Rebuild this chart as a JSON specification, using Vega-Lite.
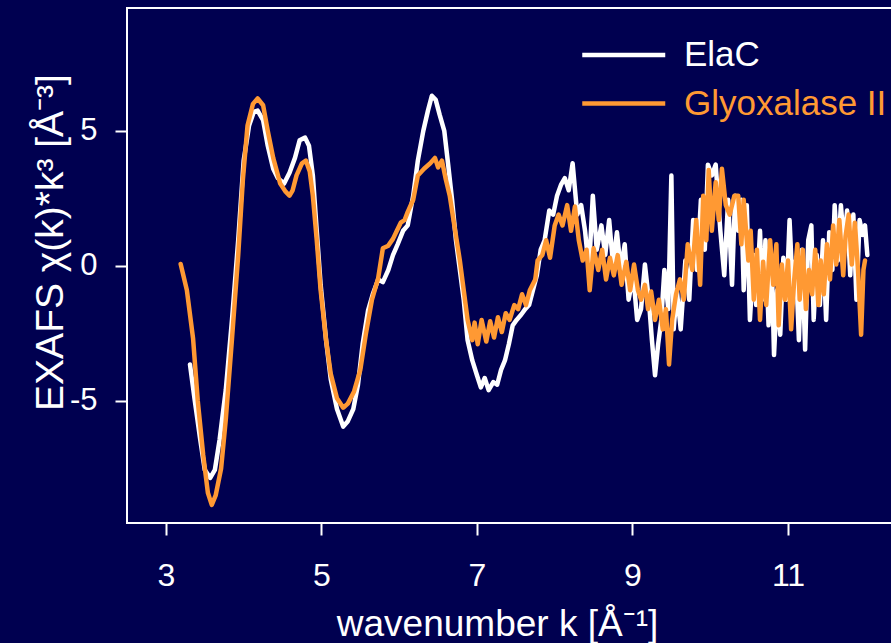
{
  "$schema": "https://vega.github.io/schema/vega-lite/v6.json",
  "autosize": {"type": "none"},
  "padding": {"left": 127, "top": 8, "right": -2, "bottom": 120},
  "width": 766,
  "height": 515,
  "background": "#000050",
  "config": {
    "view": {"stroke": "#ffffff", "strokeWidth": 2},
    "font": "Liberation Sans",
    "axis": {"domain": false, "grid": false, "tickColor": "#ffffff", "tickWidth": 2, "tickSize": 12,
      "labelColor": "#ffffff", "titleColor": "#ffffff", "labelFont": "Liberation Sans", "titleFont": "Liberation Sans",
      "labelFontSize": 31, "titleFontSize": 37, "titleFontWeight": "normal"}
  },
  "data": {"values": [
    {"s":"ElaC","k":3.31,"v":-3.65},{"s":"ElaC","k":3.37,"v":-4.95},{"s":"ElaC","k":3.44,"v":-6.4},{"s":"ElaC","k":3.5,"v":-7.55},{"s":"ElaC","k":3.57,"v":-7.85},{"s":"ElaC","k":3.63,"v":-7.55},{"s":"ElaC","k":3.69,"v":-6.45},{"s":"ElaC","k":3.77,"v":-4.6},{"s":"ElaC","k":3.85,"v":-2.0},{"s":"ElaC","k":3.93,"v":0.95},{"s":"ElaC","k":4.0,"v":3.9},{"s":"ElaC","k":4.07,"v":5.2},{"s":"ElaC","k":4.13,"v":5.7},{"s":"ElaC","k":4.18,"v":5.75},{"s":"ElaC","k":4.25,"v":5.4},{"s":"ElaC","k":4.31,"v":4.45},{"s":"ElaC","k":4.38,"v":3.6},{"s":"ElaC","k":4.44,"v":3.25},{"s":"ElaC","k":4.52,"v":3.05},{"s":"ElaC","k":4.59,"v":3.45},{"s":"ElaC","k":4.66,"v":4.0},{"s":"ElaC","k":4.72,"v":4.65},{"s":"ElaC","k":4.79,"v":4.75},{"s":"ElaC","k":4.84,"v":4.45},{"s":"ElaC","k":4.89,"v":3.35},{"s":"ElaC","k":4.94,"v":1.3},{"s":"ElaC","k":4.99,"v":-0.7},{"s":"ElaC","k":5.06,"v":-2.75},{"s":"ElaC","k":5.12,"v":-4.2},{"s":"ElaC","k":5.2,"v":-5.3},{"s":"ElaC","k":5.28,"v":-5.95},{"s":"ElaC","k":5.34,"v":-5.75},{"s":"ElaC","k":5.41,"v":-5.3},{"s":"ElaC","k":5.47,"v":-4.4},{"s":"ElaC","k":5.53,"v":-2.9},{"s":"ElaC","k":5.6,"v":-1.65},{"s":"ElaC","k":5.66,"v":-1.05},{"s":"ElaC","k":5.73,"v":-0.5},{"s":"ElaC","k":5.79,"v":-0.6},{"s":"ElaC","k":5.86,"v":-0.15},{"s":"ElaC","k":5.92,"v":0.4},{"s":"ElaC","k":5.98,"v":0.8},{"s":"ElaC","k":6.05,"v":1.3},{"s":"ElaC","k":6.11,"v":1.5},{"s":"ElaC","k":6.18,"v":2.6},{"s":"ElaC","k":6.24,"v":3.9},{"s":"ElaC","k":6.31,"v":5.0},{"s":"ElaC","k":6.37,"v":5.75},{"s":"ElaC","k":6.42,"v":6.3},{"s":"ElaC","k":6.47,"v":6.15},{"s":"ElaC","k":6.52,"v":5.6},{"s":"ElaC","k":6.58,"v":5.0},{"s":"ElaC","k":6.63,"v":3.75},{"s":"ElaC","k":6.68,"v":2.45},{"s":"ElaC","k":6.73,"v":0.95},{"s":"ElaC","k":6.78,"v":-0.15},{"s":"ElaC","k":6.83,"v":-1.25},{"s":"ElaC","k":6.88,"v":-2.75},{"s":"ElaC","k":6.94,"v":-3.5},{"s":"ElaC","k":7.0,"v":-4.05},{"s":"ElaC","k":7.05,"v":-4.5},{"s":"ElaC","k":7.1,"v":-4.15},{"s":"ElaC","k":7.15,"v":-4.6},{"s":"ElaC","k":7.21,"v":-4.3},{"s":"ElaC","k":7.26,"v":-4.4},{"s":"ElaC","k":7.31,"v":-3.85},{"s":"ElaC","k":7.36,"v":-3.5},{"s":"ElaC","k":7.41,"v":-2.9},{"s":"ElaC","k":7.46,"v":-2.2},{"s":"ElaC","k":7.51,"v":-2.0},{"s":"ElaC","k":7.57,"v":-1.8},{"s":"ElaC","k":7.62,"v":-1.6},{"s":"ElaC","k":7.67,"v":-1.45},{"s":"ElaC","k":7.72,"v":-0.9},{"s":"ElaC","k":7.77,"v":-0.35},{"s":"ElaC","k":7.82,"v":0.6},{"s":"ElaC","k":7.87,"v":0.95},{"s":"ElaC","k":7.93,"v":2.05},{"s":"ElaC","k":7.98,"v":1.9},{"s":"ElaC","k":8.03,"v":2.6},{"s":"ElaC","k":8.08,"v":3.0},{"s":"ElaC","k":8.13,"v":3.25},{"s":"ElaC","k":8.18,"v":2.8},{"s":"ElaC","k":8.23,"v":3.8},{"s":"ElaC","k":8.29,"v":1.9},{"s":"ElaC","k":8.34,"v":2.25},{"s":"ElaC","k":8.39,"v":1.3},{"s":"ElaC","k":8.44,"v":-0.15},{"s":"ElaC","k":8.49,"v":2.6},{"s":"ElaC","k":8.54,"v":0.6},{"s":"ElaC","k":8.6,"v":1.5},{"s":"ElaC","k":8.65,"v":0.4},{"s":"ElaC","k":8.7,"v":1.7},{"s":"ElaC","k":8.75,"v":0.05},{"s":"ElaC","k":8.8,"v":1.25},{"s":"ElaC","k":8.85,"v":-0.15},{"s":"ElaC","k":8.9,"v":0.8},{"s":"ElaC","k":8.95,"v":-1.25},{"s":"ElaC","k":9.01,"v":-0.35},{"s":"ElaC","k":9.06,"v":-2.0},{"s":"ElaC","k":9.11,"v":-1.6},{"s":"ElaC","k":9.16,"v":0.05},{"s":"ElaC","k":9.21,"v":-1.25},{"s":"ElaC","k":9.25,"v":-2.75},{"s":"ElaC","k":9.29,"v":-4.05},{"s":"ElaC","k":9.33,"v":-2.9},{"s":"ElaC","k":9.37,"v":-2.0},{"s":"ElaC","k":9.41,"v":-0.15},{"s":"ElaC","k":9.46,"v":-1.6},{"s":"ElaC","k":9.5,"v":3.35},{"s":"ElaC","k":9.53,"v":-2.35},{"s":"ElaC","k":9.57,"v":-0.9},{"s":"ElaC","k":9.62,"v":-2.35},{"s":"ElaC","k":9.68,"v":0.2},{"s":"ElaC","k":9.73,"v":-1.25},{"s":"ElaC","k":9.78,"v":1.7},{"s":"ElaC","k":9.83,"v":-0.15},{"s":"ElaC","k":9.88,"v":2.45},{"s":"ElaC","k":9.93,"v":0.6},{"s":"ElaC","k":9.97,"v":3.75},{"s":"ElaC","k":10.02,"v":3.35},{"s":"ElaC","k":10.07,"v":3.75},{"s":"ElaC","k":10.13,"v":1.3},{"s":"ElaC","k":10.18,"v":-0.35},{"s":"ElaC","k":10.23,"v":2.45},{"s":"ElaC","k":10.28,"v":-0.7},{"s":"ElaC","k":10.32,"v":2.6},{"s":"ElaC","k":10.36,"v":1.3},{"s":"ElaC","k":10.4,"v":2.45},{"s":"ElaC","k":10.43,"v":-0.9},{"s":"ElaC","k":10.47,"v":2.25},{"s":"ElaC","k":10.51,"v":-2.0},{"s":"ElaC","k":10.56,"v":0.4},{"s":"ElaC","k":10.59,"v":-1.45},{"s":"ElaC","k":10.64,"v":1.3},{"s":"ElaC","k":10.67,"v":-1.25},{"s":"ElaC","k":10.71,"v":0.95},{"s":"ElaC","k":10.75,"v":-2.2},{"s":"ElaC","k":10.79,"v":0.2},{"s":"ElaC","k":10.82,"v":-3.3},{"s":"ElaC","k":10.86,"v":-0.9},{"s":"ElaC","k":10.9,"v":-2.55},{"s":"ElaC","k":10.94,"v":0.3},{"s":"ElaC","k":10.98,"v":-1.25},{"s":"ElaC","k":11.02,"v":1.7},{"s":"ElaC","k":11.06,"v":-0.9},{"s":"ElaC","k":11.1,"v":0.2},{"s":"ElaC","k":11.14,"v":-2.75},{"s":"ElaC","k":11.18,"v":0.6},{"s":"ElaC","k":11.22,"v":-3.1},{"s":"ElaC","k":11.26,"v":0.95},{"s":"ElaC","k":11.3,"v":1.5},{"s":"ElaC","k":11.33,"v":-2.0},{"s":"ElaC","k":11.37,"v":0.4},{"s":"ElaC","k":11.41,"v":-1.45},{"s":"ElaC","k":11.45,"v":0.95},{"s":"ElaC","k":11.49,"v":-2.0},{"s":"ElaC","k":11.53,"v":1.25},{"s":"ElaC","k":11.57,"v":-0.15},{"s":"ElaC","k":11.6,"v":2.25},{"s":"ElaC","k":11.64,"v":0.2},{"s":"ElaC","k":11.68,"v":2.25},{"s":"ElaC","k":11.72,"v":0.8},{"s":"ElaC","k":11.76,"v":2.05},{"s":"ElaC","k":11.8,"v":-0.35},{"s":"ElaC","k":11.84,"v":1.9},{"s":"ElaC","k":11.88,"v":-1.25},{"s":"ElaC","k":11.92,"v":1.7},{"s":"ElaC","k":11.96,"v":1.15},{"s":"ElaC","k":11.99,"v":1.5},{"s":"ElaC","k":12.02,"v":0.4},
    {"s":"Glyoxalase II","k":3.19,"v":0.07},{"s":"Glyoxalase II","k":3.27,"v":-0.9},{"s":"Glyoxalase II","k":3.35,"v":-2.7},{"s":"Glyoxalase II","k":3.41,"v":-5.0},{"s":"Glyoxalase II","k":3.48,"v":-7.0},{"s":"Glyoxalase II","k":3.54,"v":-8.4},{"s":"Glyoxalase II","k":3.59,"v":-8.85},{"s":"Glyoxalase II","k":3.64,"v":-8.5},{"s":"Glyoxalase II","k":3.71,"v":-7.5},{"s":"Glyoxalase II","k":3.77,"v":-5.7},{"s":"Glyoxalase II","k":3.85,"v":-2.7},{"s":"Glyoxalase II","k":3.93,"v":0.4},{"s":"Glyoxalase II","k":3.99,"v":3.2},{"s":"Glyoxalase II","k":4.05,"v":5.2},{"s":"Glyoxalase II","k":4.12,"v":6.0},{"s":"Glyoxalase II","k":4.18,"v":6.2},{"s":"Glyoxalase II","k":4.25,"v":5.95},{"s":"Glyoxalase II","k":4.31,"v":5.0},{"s":"Glyoxalase II","k":4.38,"v":4.0},{"s":"Glyoxalase II","k":4.47,"v":3.05},{"s":"Glyoxalase II","k":4.54,"v":2.75},{"s":"Glyoxalase II","k":4.59,"v":2.6},{"s":"Glyoxalase II","k":4.63,"v":2.8},{"s":"Glyoxalase II","k":4.68,"v":3.35},{"s":"Glyoxalase II","k":4.75,"v":3.8},{"s":"Glyoxalase II","k":4.8,"v":3.9},{"s":"Glyoxalase II","k":4.85,"v":3.5},{"s":"Glyoxalase II","k":4.89,"v":2.6},{"s":"Glyoxalase II","k":4.94,"v":0.95},{"s":"Glyoxalase II","k":4.99,"v":-0.9},{"s":"Glyoxalase II","k":5.06,"v":-2.75},{"s":"Glyoxalase II","k":5.12,"v":-4.0},{"s":"Glyoxalase II","k":5.2,"v":-4.9},{"s":"Glyoxalase II","k":5.28,"v":-5.25},{"s":"Glyoxalase II","k":5.34,"v":-5.1},{"s":"Glyoxalase II","k":5.42,"v":-4.65},{"s":"Glyoxalase II","k":5.5,"v":-3.85},{"s":"Glyoxalase II","k":5.57,"v":-2.55},{"s":"Glyoxalase II","k":5.65,"v":-1.25},{"s":"Glyoxalase II","k":5.73,"v":-0.45},{"s":"Glyoxalase II","k":5.79,"v":0.65},{"s":"Glyoxalase II","k":5.86,"v":0.75},{"s":"Glyoxalase II","k":5.92,"v":1.0},{"s":"Glyoxalase II","k":5.97,"v":1.3},{"s":"Glyoxalase II","k":6.02,"v":1.6},{"s":"Glyoxalase II","k":6.07,"v":1.7},{"s":"Glyoxalase II","k":6.11,"v":2.0},{"s":"Glyoxalase II","k":6.18,"v":2.45},{"s":"Glyoxalase II","k":6.24,"v":3.35},{"s":"Glyoxalase II","k":6.32,"v":3.6},{"s":"Glyoxalase II","k":6.4,"v":3.8},{"s":"Glyoxalase II","k":6.46,"v":4.0},{"s":"Glyoxalase II","k":6.5,"v":3.65},{"s":"Glyoxalase II","k":6.55,"v":3.9},{"s":"Glyoxalase II","k":6.6,"v":3.2},{"s":"Glyoxalase II","k":6.65,"v":2.6},{"s":"Glyoxalase II","k":6.72,"v":1.3},{"s":"Glyoxalase II","k":6.78,"v":0.2},{"s":"Glyoxalase II","k":6.83,"v":-0.9},{"s":"Glyoxalase II","k":6.88,"v":-2.0},{"s":"Glyoxalase II","k":6.94,"v":-2.75},{"s":"Glyoxalase II","k":6.97,"v":-2.1},{"s":"Glyoxalase II","k":7.01,"v":-2.9},{"s":"Glyoxalase II","k":7.06,"v":-2.0},{"s":"Glyoxalase II","k":7.12,"v":-2.8},{"s":"Glyoxalase II","k":7.17,"v":-2.05},{"s":"Glyoxalase II","k":7.22,"v":-2.65},{"s":"Glyoxalase II","k":7.27,"v":-1.9},{"s":"Glyoxalase II","k":7.32,"v":-2.45},{"s":"Glyoxalase II","k":7.37,"v":-1.75},{"s":"Glyoxalase II","k":7.42,"v":-2.0},{"s":"Glyoxalase II","k":7.48,"v":-1.45},{"s":"Glyoxalase II","k":7.53,"v":-1.6},{"s":"Glyoxalase II","k":7.58,"v":-1.05},{"s":"Glyoxalase II","k":7.63,"v":-1.45},{"s":"Glyoxalase II","k":7.68,"v":-0.9},{"s":"Glyoxalase II","k":7.75,"v":-0.5},{"s":"Glyoxalase II","k":7.78,"v":0.2},{"s":"Glyoxalase II","k":7.84,"v":0.4},{"s":"Glyoxalase II","k":7.89,"v":0.95},{"s":"Glyoxalase II","k":7.94,"v":0.3},{"s":"Glyoxalase II","k":8.0,"v":1.5},{"s":"Glyoxalase II","k":8.05,"v":1.9},{"s":"Glyoxalase II","k":8.1,"v":1.5},{"s":"Glyoxalase II","k":8.16,"v":2.25},{"s":"Glyoxalase II","k":8.21,"v":1.3},{"s":"Glyoxalase II","k":8.26,"v":2.2},{"s":"Glyoxalase II","k":8.31,"v":0.95},{"s":"Glyoxalase II","k":8.36,"v":0.2},{"s":"Glyoxalase II","k":8.41,"v":0.6},{"s":"Glyoxalase II","k":8.45,"v":-0.9},{"s":"Glyoxalase II","k":8.5,"v":0.65},{"s":"Glyoxalase II","k":8.56,"v":-0.15},{"s":"Glyoxalase II","k":8.61,"v":0.6},{"s":"Glyoxalase II","k":8.66,"v":-0.5},{"s":"Glyoxalase II","k":8.71,"v":0.3},{"s":"Glyoxalase II","k":8.76,"v":-0.35},{"s":"Glyoxalase II","k":8.81,"v":0.4},{"s":"Glyoxalase II","k":8.86,"v":-0.7},{"s":"Glyoxalase II","k":8.92,"v":0.15},{"s":"Glyoxalase II","k":8.97,"v":-0.9},{"s":"Glyoxalase II","k":9.02,"v":0.05},{"s":"Glyoxalase II","k":9.07,"v":-0.9},{"s":"Glyoxalase II","k":9.11,"v":-1.25},{"s":"Glyoxalase II","k":9.16,"v":-0.7},{"s":"Glyoxalase II","k":9.2,"v":-1.6},{"s":"Glyoxalase II","k":9.24,"v":-0.95},{"s":"Glyoxalase II","k":9.29,"v":-2.0},{"s":"Glyoxalase II","k":9.34,"v":-1.25},{"s":"Glyoxalase II","k":9.39,"v":-2.35},{"s":"Glyoxalase II","k":9.43,"v":-1.6},{"s":"Glyoxalase II","k":9.47,"v":-3.65},{"s":"Glyoxalase II","k":9.51,"v":-2.0},{"s":"Glyoxalase II","k":9.56,"v":-1.05},{"s":"Glyoxalase II","k":9.61,"v":-0.5},{"s":"Glyoxalase II","k":9.66,"v":-1.25},{"s":"Glyoxalase II","k":9.71,"v":0.8},{"s":"Glyoxalase II","k":9.77,"v":-0.15},{"s":"Glyoxalase II","k":9.82,"v":1.7},{"s":"Glyoxalase II","k":9.87,"v":-0.7},{"s":"Glyoxalase II","k":9.91,"v":2.6},{"s":"Glyoxalase II","k":9.95,"v":0.95},{"s":"Glyoxalase II","k":9.98,"v":3.55},{"s":"Glyoxalase II","k":10.02,"v":1.3},{"s":"Glyoxalase II","k":10.07,"v":3.1},{"s":"Glyoxalase II","k":10.11,"v":1.7},{"s":"Glyoxalase II","k":10.15,"v":3.6},{"s":"Glyoxalase II","k":10.2,"v":2.25},{"s":"Glyoxalase II","k":10.25,"v":1.9},{"s":"Glyoxalase II","k":10.31,"v":2.6},{"s":"Glyoxalase II","k":10.36,"v":2.6},{"s":"Glyoxalase II","k":10.4,"v":0.8},{"s":"Glyoxalase II","k":10.43,"v":2.45},{"s":"Glyoxalase II","k":10.49,"v":0.2},{"s":"Glyoxalase II","k":10.52,"v":1.3},{"s":"Glyoxalase II","k":10.56,"v":-1.25},{"s":"Glyoxalase II","k":10.6,"v":0.6},{"s":"Glyoxalase II","k":10.64,"v":-2.0},{"s":"Glyoxalase II","k":10.68,"v":0.15},{"s":"Glyoxalase II","k":10.72,"v":-1.45},{"s":"Glyoxalase II","k":10.77,"v":0.95},{"s":"Glyoxalase II","k":10.81,"v":-0.7},{"s":"Glyoxalase II","k":10.85,"v":0.8},{"s":"Glyoxalase II","k":10.88,"v":-2.2},{"s":"Glyoxalase II","k":10.92,"v":0.05},{"s":"Glyoxalase II","k":10.96,"v":-1.25},{"s":"Glyoxalase II","k":11.0,"v":0.2},{"s":"Glyoxalase II","k":11.04,"v":-2.35},{"s":"Glyoxalase II","k":11.08,"v":-0.5},{"s":"Glyoxalase II","k":11.12,"v":0.8},{"s":"Glyoxalase II","k":11.15,"v":-1.25},{"s":"Glyoxalase II","k":11.19,"v":0.6},{"s":"Glyoxalase II","k":11.23,"v":-1.6},{"s":"Glyoxalase II","k":11.27,"v":-0.15},{"s":"Glyoxalase II","k":11.31,"v":-1.05},{"s":"Glyoxalase II","k":11.35,"v":0.6},{"s":"Glyoxalase II","k":11.39,"v":-1.45},{"s":"Glyoxalase II","k":11.42,"v":0.2},{"s":"Glyoxalase II","k":11.46,"v":-1.05},{"s":"Glyoxalase II","k":11.5,"v":0.8},{"s":"Glyoxalase II","k":11.54,"v":-0.5},{"s":"Glyoxalase II","k":11.58,"v":1.5},{"s":"Glyoxalase II","k":11.62,"v":0.05},{"s":"Glyoxalase II","k":11.66,"v":1.7},{"s":"Glyoxalase II","k":11.71,"v":-0.35},{"s":"Glyoxalase II","k":11.74,"v":1.1},{"s":"Glyoxalase II","k":11.78,"v":1.9},{"s":"Glyoxalase II","k":11.82,"v":0.05},{"s":"Glyoxalase II","k":11.86,"v":1.6},{"s":"Glyoxalase II","k":11.9,"v":-0.15},{"s":"Glyoxalase II","k":11.94,"v":-2.55},{"s":"Glyoxalase II","k":11.97,"v":-0.15},{"s":"Glyoxalase II","k":11.99,"v":0.2}
  ]},
  "mark": {"type": "line", "strokeWidth": 4.5, "strokeJoin": "round", "strokeCap": "round"},
  "encoding": {
    "x": {"field": "k", "type": "quantitative",
      "scale": {"domain": [2.5, 12.35], "nice": false, "zero": false},
      "axis": {"values": [3, 5, 7, 9, 11], "labelPadding": 25, "labelFontSize": 32, "title": "wavenumber k [Å⁻¹]",
        "titleX": 370, "titleY": 112, "titleBaseline": "alphabetic", "titleAnchor": "middle"}},
    "y": {"field": "v", "type": "quantitative",
      "scale": {"domain": [-9.52, 9.55], "nice": false, "zero": false},
      "axis": {"values": [-5, 0, 5], "labelPadding": 18, "labelExpr": "toString(datum.value)", "title": "EXAFS χ(k)*k³ [Å⁻³]",
        "titleX": -65, "titleY": 234, "titleBaseline": "alphabetic", "titleAngle": 270, "titleFontSize": 39}},
    "color": {"field": "s", "type": "nominal",
      "scale": {"domain": ["ElaC", "Glyoxalase II"], "range": ["#ffffff", "#ff9933"]},
      "legend": {"title": null, "orient": "none", "legendX": 453, "legendY": 24,
        "symbolType": "M-1,0H3", "symbolSize": 1722, "symbolStrokeWidth": 4.5,
        "labelFontSize": 35, "labelFont": "Liberation Sans", "labelOffset": 58, "labelLimit": 0,
        "rowPadding": 7.5, "padding": 0,
        "encode": {"labels": {"update": {"fill": {"signal": "datum.value === 'ElaC' ? '#ffffff' : '#ff9933'"}}}}}}
  }
}
